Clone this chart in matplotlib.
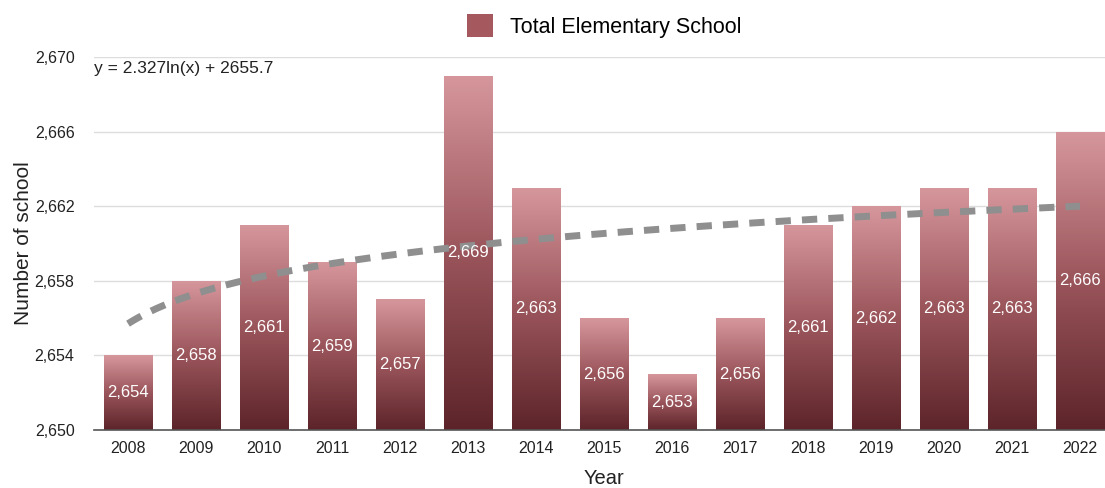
import matplotlib
matplotlib.use("Agg")
import matplotlib.pyplot as plt
import numpy as np
from matplotlib.colors import LinearSegmentedColormap
from matplotlib.patches import Patch

plt.rcParams['font.family'] = ['Liberation Sans', 'DejaVu Sans']

years = ['2008', '2009', '2010', '2011', '2012', '2013', '2014', '2015',
         '2016', '2017', '2018', '2019', '2020', '2021', '2022']
schools = [2654, 2658, 2661, 2659, 2657, 2669, 2663, 2656, 2653, 2656,
           2661, 2662, 2663, 2663, 2666]
trend_a = 2.327
trend_b = 2655.7
y_ticks = [2650, 2654, 2658, 2662, 2666, 2670]

W, H = 1105, 488
fig = plt.figure(figsize=(W / 100, H / 100), dpi=100)
ax_l, ax_r, ax_b, ax_t = 94, 1114, 430, 57
ax = fig.add_axes([ax_l / W, (H - ax_b) / H, (ax_r - ax_l) / W, (ax_b - ax_t) / H])

x = np.arange(len(years))
ymin, ymax = 2650, 2670

cmap = LinearSegmentedColormap.from_list('g', ['#5c2429', '#9a555b', '#d6979c'])
bars = ax.bar(x, np.array(schools) - ymin, bottom=ymin, width=0.71,
              color='none', edgecolor='none', zorder=2)
grad = np.linspace(0, 1, 256).reshape(-1, 1)
for b, v in zip(bars, schools):
    x0 = b.get_x()
    w = b.get_width()
    im = ax.imshow(grad, cmap=cmap, aspect='auto', origin='lower',
                   extent=[x0, x0 + w, ymin, v], zorder=2, vmin=0, vmax=1)
    im.set_clip_path(b)
ax.set_xlim(-0.5, 14.5)
ax.set_ylim(ymin, ymax)

for xi, v in zip(x, schools):
    ax.text(xi, (ymin + v) / 2, f"{v:,}", ha='center', va='center',
            color='white', fontsize=12, zorder=4)

xt = np.linspace(1, len(years), 200)
ax.plot(xt - 1, trend_a * np.log(xt) + trend_b, color='#8f8f8f', lw=5,
        dashes=(2.2, 1.6), zorder=3, solid_capstyle='butt')

ax.text(0.0, 0.97, f"y = {trend_a}ln(x) + {trend_b}", transform=ax.transAxes,
        fontsize=12.5, va='center', ha='left', color='#222222')

ax.set_yticks(y_ticks)
ax.set_yticklabels([f"{t:,}" for t in y_ticks])
ax.set_xticks(x)
ax.set_xticklabels(years)
ax.tick_params(axis='both', length=0, labelsize=11.5, colors='#222222')
ax.tick_params(axis='x', pad=8)
ax.tick_params(axis='y', pad=14)
ax.grid(axis='y', color='#dddddd', lw=1, zorder=0)
ax.set_axisbelow(True)
for s in ['top', 'right', 'left']:
    ax.spines[s].set_visible(False)
ax.spines['bottom'].set_color('#555555')
ax.spines['bottom'].set_linewidth(1.2)

ax.set_xlabel('Year', fontsize=14.5, labelpad=9, color='#222222')
ax.set_ylabel('Number of school', fontsize=15, labelpad=1, color='#222222')

fig.legend(handles=[Patch(facecolor='#a5585e', edgecolor='none')],
           labels=['Total Elementary School'], loc='upper center',
           bbox_to_anchor=(0.547, 1.01), frameon=False, fontsize=15.5,
           handlelength=1.2, handleheight=1.2, handletextpad=0.8)

fig.savefig('out.png', dpi=100)
